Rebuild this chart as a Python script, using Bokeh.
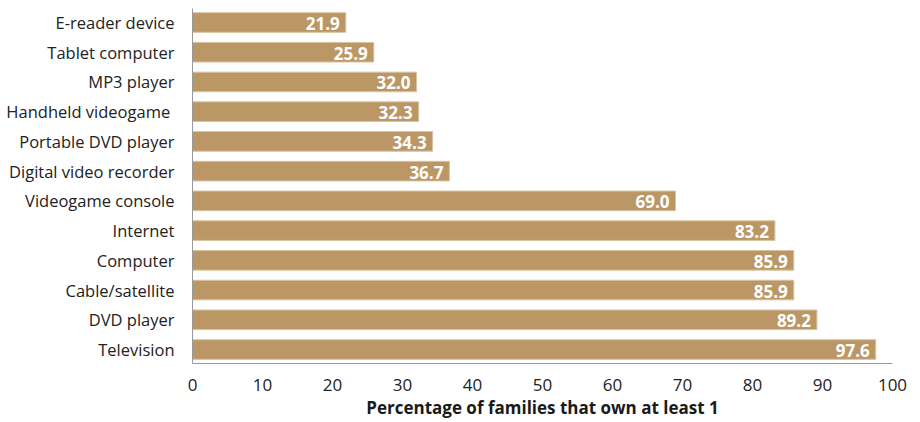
from bokeh.plotting import figure
from bokeh.models import ColumnDataSource, FixedTicker, Range1d
from bokeh.core.properties import value
from bokeh.embed import file_html
from bokeh.resources import INLINE

categories = ["E-reader device", "Tablet computer", "MP3 player", "Handheld videogame ",
              "Portable DVD player", "Digital video recorder", "Videogame console",
              "Internet", "Computer", "Cable/satellite", "DVD player", "Television"]
values = [21.9, 25.9, 32.0, 32.3, 34.3, 36.7, 69.0, 83.2, 85.9, 85.9, 89.2, 97.6]
x_ticks = [0, 10, 20, 30, 40, 50, 60, 70, 80, 90, 100]
x_title = "Percentage of families that own at least 1"

n = len(categories)
ypos = [n - 1 - i for i in range(n)]
src = ColumnDataSource(dict(y=ypos, v=values, lab=["%.1f" % v for v in values]))

FONT = "Open Sans"
p = figure(width=920, height=422, output_backend="svg", toolbar_location=None,
           x_range=Range1d(0, 100), y_range=Range1d(-0.47, n - 1 + 0.47),
           min_border_left=192, min_border_right=28, min_border_top=8, min_border_bottom=59)
p.outline_line_color = None
p.background_fill_color = "white"
p.border_fill_color = "white"
p.grid.grid_line_color = None

p.hbar(y="y", right="v", left=0, height=0.66, source=src,
       fill_color="#BC9766", line_color="#D8C2A2", line_width=1)
p.text(x="v", y="y", text="lab", source=src, x_offset=-6, y_offset=1,
       text_align="right", text_baseline="middle", text_color="white",
       text_font=value(FONT), text_font_style="bold", text_font_size="17px")

p.xaxis.ticker = FixedTicker(ticks=x_ticks)
p.xaxis.axis_label = x_title
p.xaxis.axis_label_text_font = FONT
p.xaxis.axis_label_text_font_style = "bold"
p.xaxis.axis_label_text_font_size = "17px"
p.xaxis.axis_label_text_color = "#1a1a1a"
p.xaxis.axis_label_standoff = 2
p.xaxis.major_label_text_font = FONT
p.xaxis.major_label_text_font_size = "17px"
p.xaxis.major_label_text_color = "#222222"
p.xaxis.major_label_standoff = 9
p.xaxis.major_tick_line_color = None
p.xaxis.minor_tick_line_color = None
p.xaxis.axis_line_color = "#999999"

p.yaxis.ticker = FixedTicker(ticks=ypos)
p.yaxis.major_label_overrides = {ypos[i]: categories[i] for i in range(n)}
p.yaxis.major_label_text_font = FONT
p.yaxis.major_label_text_font_size = "16.5px"
p.yaxis.major_label_text_color = "#222222"
p.yaxis.major_label_standoff = 12
p.yaxis.major_tick_line_color = None
p.yaxis.minor_tick_line_color = None
p.yaxis.axis_line_color = "#999999"

open("out.html", "w").write(file_html(p, INLINE))
